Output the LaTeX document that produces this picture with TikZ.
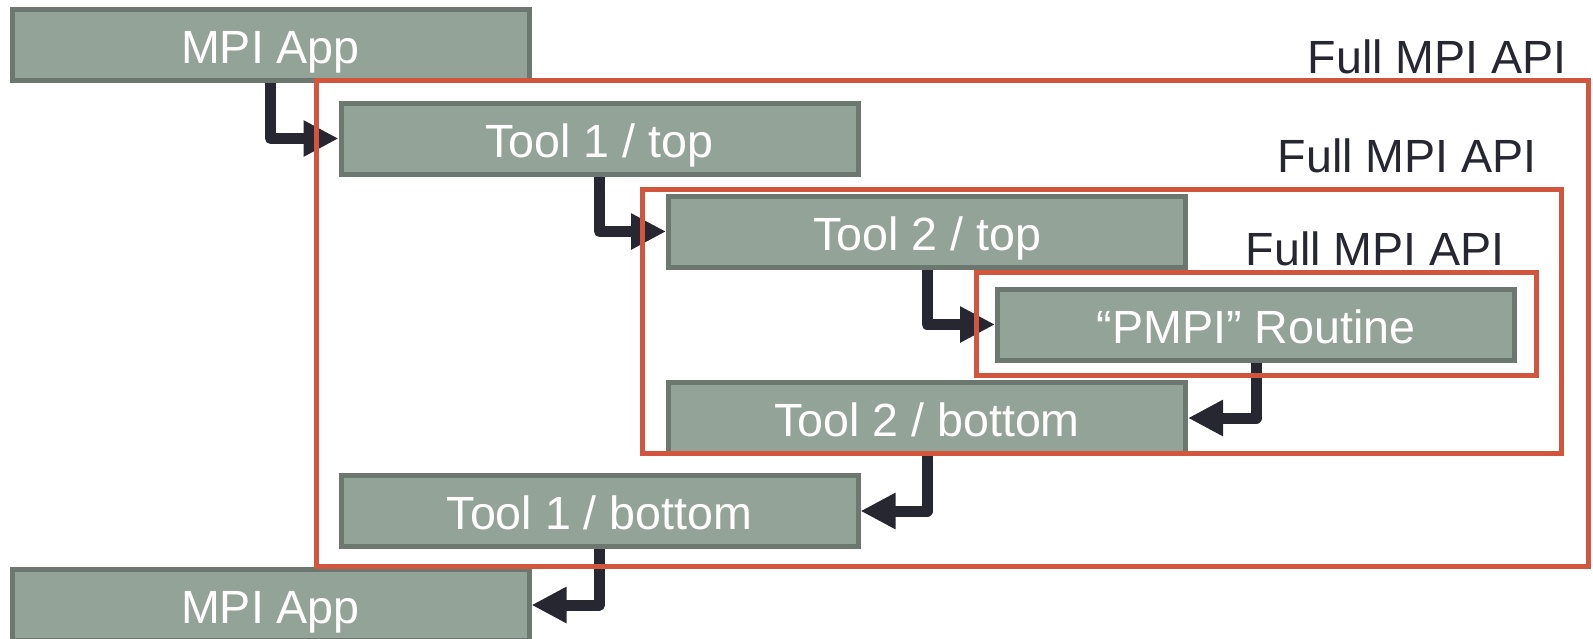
\documentclass[tikz,border=0pt]{standalone}
\usepackage{fontspec}
\setmainfont{Liberation Sans}
\usetikzlibrary{arrows.meta}

\definecolor{boxfill}{HTML}{94A397}
\definecolor{boxedge}{HTML}{6C786F}
\definecolor{apired}{HTML}{D2553D}
\definecolor{flowink}{HTML}{272731}

\tikzset{
  layer/.style={draw=boxedge, fill=boxfill, line width=2.5pt,
    minimum width=258.5pt, minimum height=35.5pt, inner sep=0pt,
    text height=18.7pt, text depth=0pt,
    text=white, font=\fontsize{23.3}{28}\selectfont},
  apilabel/.style={inner sep=0pt, anchor=base east, text=flowink,
    font=\fontsize{23.3}{28}\selectfont},
  apibox/.style={draw=apired, line width=2.5pt},
  flow/.style={draw=flowink, line width=5.5pt, line join=round,
    -{Triangle[length=17.5pt, width=17pt]}},
}

\begin{document}
\begin{tikzpicture}[x=0.5pt, y=-0.5pt]
  \useasboundingbox (0,0) rectangle (1593,638);

  % call chain, top to bottom
  \node[layer] (app1)  at (270.5, 45.0)  {MPI App};
  \node[layer] (t1top) at (599.5, 138.5) {Tool 1 / top};
  \node[layer] (t2top) at (927.0, 231.5) {Tool 2 / top};
  \node[layer] (pmpi)  at (1256.0,324.5) {``PMPI'' Routine};
  \node[layer] (t2bot) at (927.0, 418.0) {Tool 2 / bottom};
  \node[layer] (t1bot) at (599.5, 511.0) {Tool 1 / bottom};
  \node[layer] (app2)  at (270.5, 605.0) {MPI App};

  % calls going down and returns coming back
  \draw[flow] (app1.south)  |- (t1top.west);
  \draw[flow] (t1top.south) |- (t2top.west);
  \draw[flow] (t2top.south) |- (pmpi.west);
  \draw[flow] (pmpi.south)  |- (t2bot.east);
  \draw[flow] (t2bot.south) |- (t1bot.east);
  \draw[flow] (t1bot.south) |- (app2.east);

  % nested API boundaries
  \draw[apibox] (316,80)  rectangle (1588,566);
  \draw[apibox] (642,189) rectangle (1561,453);
  \draw[apibox] (976,272) rectangle (1536,375);

  \node[apilabel] (api1) at (1567,73)  {Full MPI API};
  \node[apilabel] (api2) at (1537,172) {Full MPI API};
  \node[apilabel] (api3) at (1505,265) {Full MPI API};
\end{tikzpicture}
\end{document}
